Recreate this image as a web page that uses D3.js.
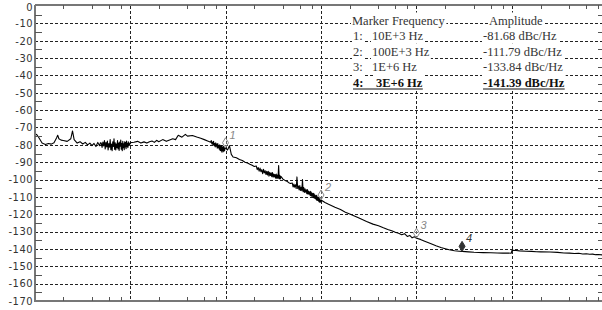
<!DOCTYPE html>
<html>
<head>
<meta charset="utf-8">
<script src="https://cdn.jsdelivr.net/npm/d3@7"></script>
<style>
  body { margin: 0; background: #fff; }
  svg { display: block; }
</style>
</head>
<body>
<svg id="chart" width="602" height="310"></svg>
<script>
// --- phase noise trace: frequency (Hz) and level (dBc/Hz), line by line ---
const freqHz = [
  100, 105, 110, 120, 130, 140, 150, 160, 170, 175,
  180, 190, 200, 220, 240, 250, 260, 280, 300, 320,
  340, 360, 380, 400, 420, 440, 460, 480, 490, 500,
  510, 520, 530, 540, 550, 560, 570, 580, 590, 600,
  610, 620, 630, 640, 650, 660, 670, 680, 690, 700,
  710, 720, 730, 740, 750, 760, 770, 780, 790, 800,
  810, 820, 830, 840, 850, 860, 870, 880, 890, 900,
  910, 920, 930, 940, 950, 960, 970, 980, 990, 1000,
  1.1e3, 1.2e3, 1.3e3, 1.4e3, 1.5e3, 1.6e3, 1.7e3, 1.8e3, 1.9e3, 2e3,
  2.2e3, 2.4e3, 2.6e3, 2.8e3, 3e3, 3.2e3, 3.5e3, 3.8e3, 4e3, 4.5e3,
  5e3, 5.5e3, 6e3, 6.5e3, 7e3, 7.1e3, 7.2e3, 7.3e3, 7.4e3, 7.5e3,
  7.6e3, 7.7e3, 7.8e3, 7.9e3, 8e3, 8.1e3, 8.2e3, 8.3e3, 8.4e3, 8.5e3,
  8.6e3, 8.7e3, 8.8e3, 8.9e3, 9e3, 9.1e3, 9.2e3, 9.3e3, 9.4e3, 9.5e3,
  9.6e3, 9.7e3, 9.8e3, 9.9e3, 1e4, 1.05e4, 1.1e4, 1.15e4, 1.2e4, 1.3e4,
  1.4e4, 1.5e4, 1.6e4, 1.7e4, 1.8e4, 1.9e4, 2e4, 2.1e4, 2.15e4, 2.2e4,
  2.25e4, 2.3e4, 2.35e4, 2.4e4, 2.45e4, 2.5e4, 2.55e4, 2.6e4, 2.65e4, 2.7e4,
  2.75e4, 2.8e4, 2.85e4, 2.9e4, 2.95e4, 3e4, 3.05e4, 3.1e4, 3.15e4, 3.2e4,
  3.25e4, 3.3e4, 3.35e4, 3.4e4, 3.45e4, 3.5e4, 3.55e4, 3.6e4, 3.65e4, 3.7e4,
  3.75e4, 3.8e4, 4e4, 4.2e4, 4.4e4, 4.6e4, 4.8e4, 5e4, 5.1e4, 5.2e4,
  5.3e4, 5.4e4, 5.5e4, 5.6e4, 5.7e4, 5.8e4, 5.9e4, 6e4, 6.1e4, 6.2e4,
  6.3e4, 6.4e4, 6.5e4, 6.6e4, 6.7e4, 6.8e4, 6.9e4, 7e4, 7.1e4, 7.2e4,
  7.3e4, 7.4e4, 7.5e4, 7.6e4, 7.7e4, 7.8e4, 7.9e4, 8e4, 8.1e4, 8.2e4,
  8.3e4, 8.4e4, 8.5e4, 8.6e4, 8.7e4, 8.8e4, 8.9e4, 9e4, 9.1e4, 9.2e4,
  9.3e4, 9.4e4, 9.5e4, 9.6e4, 9.7e4, 9.8e4, 9.9e4, 1e5, 1.1e5, 1.2e5,
  1.4e5, 1.6e5, 1.8e5, 2e5, 2.5e5, 3e5, 3.5e5, 4e5, 4.5e5, 5e5,
  5.5e5, 6e5, 6.5e5, 7e5, 7.5e5, 8e5, 8.5e5, 9e5, 9.5e5, 1e6,
  1.1e6, 1.2e6, 1.4e6, 1.6e6, 1.8e6, 2e6, 2.2e6, 2.5e6, 2.8e6, 3e6,
  3.5e6, 4e6, 5e6, 6e6, 7e6, 8e6, 9e6, 9.8e6, 1e7, 1.1e7,
  1.2e7, 1.4e7, 1.6e7, 1.8e7, 2e7, 2.5e7, 3e7, 3.5e7, 4e7, 4.5e7,
  5e7, 5.5e7, 6e7, 6.5e7, 7e7, 7.5e7, 8e7, 9e7
];
const ampDb = [
  -73.5, -74, -75.5, -79, -79.8, -79.2, -79.6, -78.8, -76, -74.5,
  -76.5, -77.3, -77.5, -78, -76.5, -72, -77, -79, -78.2, -79.5,
  -78.6, -80, -79, -80.5, -79.2, -81, -78.6, -80.5, -78.8, -79,
  -81.5, -78.4, -80.6, -77.5, -82.4, -78.6, -81.2, -77.8, -83, -79.2,
  -81.4, -77, -82.8, -79.5, -83.4, -78.2, -81, -76.5, -82.6, -78.8,
  -83, -79.6, -81.6, -77.6, -82.4, -79, -83.2, -78.4, -80.8, -77.2,
  -82.5, -79.2, -83.4, -78, -81.6, -79.4, -82.8, -78.2, -81.2, -78.6,
  -82.2, -77.8, -81, -79.2, -81.6, -78.3, -80.5, -79.4, -80.2, -78.8,
  -78.5, -78, -79, -78.3, -79, -78.2, -77.8, -78.6, -77.4, -78.2,
  -77, -78, -77.2, -76.5, -77, -74.5, -75.6, -74, -75, -74.6,
  -75.5, -76.2, -77, -77.8, -78.5, -77.5, -79.5, -78.4, -80, -78,
  -80.5, -79.2, -81.2, -78.8, -80.8, -79.6, -82, -79.3, -81.6, -80.4,
  -82.5, -80, -83.2, -80.8, -83.5, -80.4, -84.2, -81.3, -83.4, -80.9,
  -84, -81.6, -83.2, -82, -81.68, -83, -80.5, -85.5, -87, -87.5,
  -88.5, -89, -90, -90.5, -91.2, -91.8, -92.5, -92.2, -94.3, -93.1,
  -95.2, -93.4, -95.5, -94.3, -96.6, -94.1, -96.2, -94.9, -97.1, -95.3,
  -97.4, -95.2, -98.1, -95.9, -97.7, -96.1, -98.4, -96, -98.6, -96.8,
  -98.5, -97.1, -99.2, -96.8, -99.4, -97.4, -99.3, -92, -99.6, -97.6,
  -99.6, -98.2, -99.8, -100.5, -101, -101.8, -102.3, -102, -104.3, -102.6,
  -104.4, -103, -105.2, -98.5, -105.1, -103.7, -106, -103.5, -106.3, -104.5,
  -106.4, -100, -107, -104.6, -107.4, -105.4, -107.3, -105.9, -108.1, -105.8,
  -108.5, -106.6, -108.4, -107.1, -109.2, -106.8, -109.6, -107.7, -109.6, -108.1,
  -110.4, -108, -110.8, -108.8, -110.9, -109.3, -111.6, -109.1, -112, -110.1,
  -112.1, -110.4, -112.8, -110.3, -113.1, -111.1, -113, -111.79, -113.2, -114.3,
  -116, -117.3, -118.8, -119.8, -122.2, -124.2, -125.7, -126.6, -127.8, -128.8,
  -129.5, -130.4, -131, -131.8, -131.2, -132.8, -132.2, -133.6, -133, -133.84,
  -134.5, -135.4, -136.9, -138.2, -139.2, -139.9, -140.5, -141, -141.3, -141.39,
  -141.7, -141.9, -142.1, -142.2, -142.3, -142.4, -142.3, -142.5, -140.8, -140.9,
  -141.1, -141.3, -141.4, -141.6, -141.7, -141.8, -142, -142.3, -142.4, -142.6,
  -142.5, -142.9, -142.8, -143.1, -143, -143.3, -143.2, -143.5
];

// --- markers ---
const markerFreq = [1e4, 1e5, 1e6, 3e6];
const markerAmp = [-81.68, -111.79, -133.84, -141.39];
const markerFreqText = ["10E+3 Hz", "100E+3 Hz", "1E+6 Hz", "3E+6 Hz"];
const markerAmpText = ["-81.68 dBc/Hz", "-111.79 dBc/Hz", "-133.84 dBc/Hz", "-141.39 dBc/Hz"];

// --- axis ticks ---
const yTicks = [0, -10, -20, -30, -40, -50, -60, -70, -80, -90, -100, -110, -120, -130, -140, -150, -160, -170];
const xDecades = [1e2, 1e3, 1e4, 1e5, 1e6, 1e7];
const xGrid = [1e3, 1e4, 1e5, 1e6, 1e7];
const minorMult = [2, 4, 6, 8];

const svg = d3.select("#chart");
const pLeft = 35, pRight = 607.5, pTop = 6, pBottom = 301;

const x = d3.scaleLog().domain([1e2, 1e8]).range([34.5, pRight]);
const y = d3.scaleLinear().domain([-170, 0]).range([pBottom, pTop]);

svg.append("defs").append("clipPath").attr("id", "plot")
  .append("rect").attr("x", pLeft).attr("y", pTop - 2).attr("width", pRight - pLeft).attr("height", pBottom - pTop + 2);

// --- grid ---
const grid = svg.append("g").attr("stroke", "#222").attr("stroke-width", 1);
grid.selectAll("line.h")
  .data(yTicks.filter(d => d < 0 && d > -170))
  .enter().append("line")
    .attr("class", "h")
    .attr("x1", pLeft).attr("x2", pRight)
    .attr("y1", d => Math.round(y(d)) + 0.5).attr("y2", d => Math.round(y(d)) + 0.5)
    .attr("stroke-dasharray", "3,2");
grid.selectAll("line.v")
  .data(xGrid)
  .enter().append("line")
    .attr("class", "v")
    .attr("x1", d => Math.round(x(d)) + 0.5).attr("x2", d => Math.round(x(d)) + 0.5)
    .attr("y1", pTop).attr("y2", pBottom)
    .attr("stroke-dasharray", "3,2");

// --- trace ---
const trace = freqHz.map((f, i) => [f, ampDb[i]]);
svg.append("path")
  .datum(trace)
  .attr("clip-path", "url(#plot)")
  .attr("fill", "none")
  .attr("stroke", "#000")
  .attr("stroke-width", 1.1)
  .attr("stroke-linejoin", "round")
  .attr("d", d3.line().x(d => x(d[0])).y(d => y(d[1])));

// --- frame and ticks ---
const frame = svg.append("g").attr("stroke", "#777").attr("stroke-width", 2).attr("fill", "none");
frame.append("line").attr("x1", pLeft).attr("x2", pLeft).attr("y1", pTop - 1).attr("y2", pBottom + 1);
frame.append("line").attr("x1", pLeft).attr("x2", 602).attr("y1", pBottom).attr("y2", pBottom);
frame.append("line").attr("x1", pLeft).attr("x2", 602).attr("y1", pTop - 1).attr("y2", pTop - 1);

const minorX = [];
xDecades.forEach(dec => minorMult.forEach(m => minorX.push(dec * m)));
const ticks = svg.append("g").attr("stroke", "#555").attr("stroke-width", 1);
ticks.selectAll("line.bx").data(minorX).enter().append("line")
  .attr("x1", d => Math.round(x(d)) + 0.5).attr("x2", d => Math.round(x(d)) + 0.5)
  .attr("y1", pBottom - 4).attr("y2", pBottom);
ticks.selectAll("line.tx").data(minorX).enter().append("line")
  .attr("x1", d => Math.round(x(d)) + 0.5).attr("x2", d => Math.round(x(d)) + 0.5)
  .attr("y1", pTop - 1).attr("y2", pTop + 3);

const minorY = yTicks.slice(1).map(d => d + 5);
ticks.selectAll("line.ly").data(minorY).enter().append("line")
  .attr("x1", pLeft).attr("x2", pLeft + 7)
  .attr("y1", d => Math.round(y(d)) + 0.5).attr("y2", d => Math.round(y(d)) + 0.5);
ticks.selectAll("line.ry").data(minorY).enter().append("line")
  .attr("x1", 598).attr("x2", 602)
  .attr("y1", d => Math.round(y(d)) + 0.5).attr("y2", d => Math.round(y(d)) + 0.5);

svg.append("g")
  .selectAll("text")
  .data(yTicks)
  .enter().append("text")
    .attr("x", 33)
    .attr("y", d => y(d) + (d === 0 ? 1 : 0))
    .attr("dy", "0.35em")
    .attr("text-anchor", "end")
    .style("font-family", "'Liberation Sans Narrow', 'DejaVu Sans Condensed', sans-serif")
    .style("font-size", "11px")
    .style("letter-spacing", "0.5px")
    .style("fill", "#333")
    .text(d => d);

// --- marker symbols ---
const mk = svg.append("g");
markerFreq.forEach((f, i) => {
  const px = x(f), py = y(markerAmp[i]);
  const last = i === markerFreq.length - 1;
  mk.append("path")
    .attr("d", `M${px},${py} L${px - 3},${py - 5} L${px},${py - 10} L${px + 3},${py - 5} Z`)
    .attr("fill", last ? "#333" : "#fff")
    .attr("fill-opacity", last ? 1 : 0.3)
    .attr("stroke", last ? "#333" : "#888")
    .attr("stroke-width", 1);
  mk.append("text")
    .attr("x", px + 4).attr("y", py - 9)
    .style("font-family", "'Liberation Sans', sans-serif")
    .style("font-size", "11px")
    .style("font-style", "italic")
    .style("fill", last ? "#333" : "#888")
    .text(i + 1);
});

// --- marker table ---
const table = svg.append("g")
  .style("font-family", "'Liberation Serif', 'Times New Roman', serif")
  .style("font-size", "12.5px");

function boxedText(tx, ty, str, bold) {
  const g = table.append("g");
  const t = g.append("text").attr("x", tx).attr("y", ty)
    .style("fill", bold ? "#111" : "#333")
    .style("font-weight", bold ? "bold" : "normal")
    .text(str);
  const b = t.node().getBBox();
  g.insert("rect", "text")
    .attr("x", b.x - 1).attr("y", ty - 12).attr("width", b.width + 2).attr("height", 15.5)
    .attr("fill", "#fff");
  return b;
}

const rowY = [40, 55.5, 71, 86.5];
boxedText(352, 24.5, "Marker Frequency", false);
boxedText(489, 24.5, "Amplitude", false);
markerFreqText.forEach((s, i) => {
  const bold = i === 3;
  boxedText(353, rowY[i], (i + 1) + ":", bold);
  const b = boxedText(bold ? 376 : 372, rowY[i], s, bold);
  const a = boxedText(483, rowY[i], markerAmpText[i], bold);
  if (bold) {
    table.append("line").attr("x1", 353).attr("x2", b.x + b.width)
      .attr("y1", rowY[i] + 2.5).attr("y2", rowY[i] + 2.5)
      .attr("stroke", "#111").attr("stroke-width", 1);
    table.append("line").attr("x1", a.x).attr("x2", a.x + a.width)
      .attr("y1", rowY[i] + 2.5).attr("y2", rowY[i] + 2.5)
      .attr("stroke", "#111").attr("stroke-width", 1);
  }
});
</script>
</body>
</html>
